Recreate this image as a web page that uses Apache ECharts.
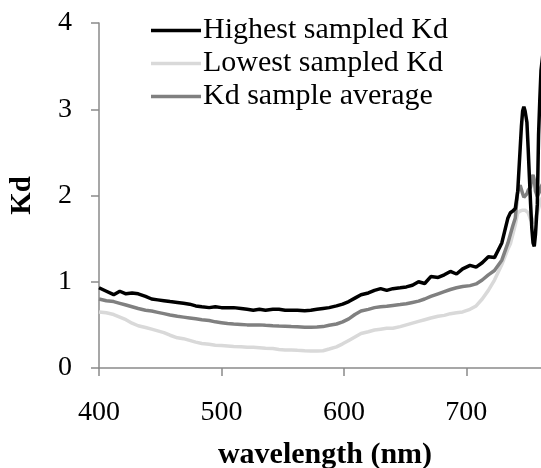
<!DOCTYPE html>
<html>
<head>
<meta charset="utf-8">
<script src="https://cdn.jsdelivr.net/npm/echarts@6/dist/echarts.min.js"></script>
<style>html,body{margin:0;padding:0;background:#fff;}#c{width:541px;height:468px;}</style>
</head>
<body>
<div id="c"></div>
<script>
var wavelengths = [400,406,412,417,422,427,432,438,443,448,453,458,464,469,474,479,484,490,495,500,505,510,516,521,526,531,536,542,547,552,557,562,568,573,578,583,588,594,599,604,609,614,620,625,630,635,640,646,651,656,661,666,671,677,682,687,692,697,703,708,713,718,723,729,734,736,738,740,742,744,745,746,747,748,749.5,750.5,751.5,752.5,753.5,754.5,755.5,756.5,758,759,760,761,763];
var highest = [0.93,0.89,0.85,0.89,0.86,0.87,0.86,0.83,0.80,0.79,0.78,0.77,0.76,0.75,0.74,0.72,0.71,0.70,0.71,0.70,0.70,0.70,0.69,0.68,0.67,0.68,0.67,0.68,0.68,0.67,0.67,0.67,0.665,0.67,0.68,0.69,0.70,0.72,0.74,0.77,0.81,0.85,0.87,0.90,0.92,0.90,0.92,0.93,0.94,0.96,1.00,0.98,1.06,1.05,1.08,1.12,1.09,1.15,1.19,1.17,1.22,1.29,1.28,1.45,1.74,1.80,1.82,1.85,2.05,2.55,2.80,2.98,3.03,2.98,2.85,2.55,2.22,1.90,1.62,1.45,1.41,1.55,1.90,2.70,3.10,3.45,3.70];
var lowest = [0.65,0.64,0.62,0.59,0.56,0.52,0.49,0.47,0.45,0.43,0.41,0.38,0.35,0.34,0.32,0.30,0.285,0.275,0.265,0.26,0.255,0.25,0.245,0.24,0.24,0.235,0.23,0.225,0.215,0.21,0.21,0.205,0.20,0.198,0.198,0.20,0.22,0.245,0.28,0.32,0.36,0.40,0.42,0.44,0.45,0.46,0.46,0.48,0.50,0.52,0.54,0.56,0.58,0.60,0.61,0.63,0.64,0.65,0.68,0.72,0.80,0.90,1.02,1.20,1.38,1.44,1.55,1.66,1.80,1.82,1.82,1.83,1.83,1.83,1.83,1.80,1.76,1.72,1.70,1.68,1.70,1.75,1.80,1.85,1.90,1.95,2.00];
var average = [0.80,0.78,0.77,0.75,0.73,0.71,0.69,0.67,0.66,0.645,0.63,0.615,0.60,0.59,0.58,0.57,0.56,0.55,0.535,0.525,0.515,0.51,0.505,0.50,0.50,0.50,0.495,0.49,0.487,0.485,0.48,0.477,0.473,0.472,0.475,0.48,0.495,0.51,0.535,0.57,0.62,0.66,0.68,0.70,0.71,0.715,0.725,0.735,0.745,0.76,0.775,0.80,0.83,0.86,0.885,0.91,0.93,0.945,0.955,0.975,1.02,1.08,1.13,1.25,1.45,1.55,1.65,1.74,2.05,2.12,2.10,2.02,1.98,1.99,2.02,2.06,2.05,2.10,2.20,2.24,2.18,2.05,1.99,2.00,2.05,2.10,2.15];
var seriesNames = ['Highest sampled Kd','Lowest sampled Kd','Kd sample average'];
var xTicks = [400,500,600,700];
var yTicks = [0,1,2,3,4];

function pairs(vals){ return wavelengths.map(function(w,i){ return [w, vals[i]]; }); }

var FONT = '"Liberation Serif", "Times New Roman", serif';
var axisColor = '#8a8a8a';
var chart = echarts.init(document.getElementById('c'), null, {renderer:'canvas'});
chart.setOption({
  animation: false,
  backgroundColor: '#ffffff',
  grid: {left: 93, right: 0, top: 23, bottom: 100, containLabel: false},
  legend: {
    orient: 'vertical', left: 146, top: 10,
    itemWidth: 50, itemHeight: 3.5, itemGap: 2, icon: 'rect',
    textStyle: {fontFamily: FONT, fontSize: 30, lineHeight: 31, color: '#000', padding: [0,0,0,-3]},
    data: seriesNames
  },
  xAxis: {
    type: 'value', min: 400, max: 761, interval: 100,
    axisLine: {lineStyle: {color: axisColor, width: 1.5}},
    axisTick: {show: true, length: 8, customValues: xTicks, lineStyle: {color: axisColor, width: 1.5}},
    axisLabel: {fontFamily: FONT, fontSize: 28, color: '#000', margin: 31, customValues: xTicks},
    splitLine: {show: false}
  },
  yAxis: {
    type: 'value', min: yTicks[0], max: yTicks[yTicks.length-1], interval: 1,
    axisLine: {show: true, lineStyle: {color: axisColor, width: 1.5}},
    axisTick: {show: true, length: 8, lineStyle: {color: axisColor, width: 1.5}},
    axisLabel: {fontFamily: FONT, fontSize: 28, color: '#000', margin: 27},
    splitLine: {show: false},
    name: 'Kd', nameLocation: 'middle', nameGap: 62, nameRotate: 90,
    nameTextStyle: {fontFamily: FONT, fontSize: 29, fontWeight: 'bold', color: '#000'}
  },
  graphic: [{
    type: 'text', x: 325, y: 440,
    style: {text: 'wavelength (nm)', fontFamily: FONT, fontSize: 30, fontWeight: 'bold', fill: '#000', align: 'center', verticalAlign: 'top'}
  }],
  series: [
    {name: seriesNames[2], type: 'line', data: pairs(average), showSymbol: false, symbol: 'none', color: '#808080', lineStyle: {width: 3.5, color: '#808080'}, z: 2},
    {name: seriesNames[1], type: 'line', data: pairs(lowest), showSymbol: false, symbol: 'none', color: '#d9d9d9', lineStyle: {width: 3.5, color: '#d9d9d9'}, z: 1},
    {name: seriesNames[0], type: 'line', data: pairs(highest), showSymbol: false, symbol: 'none', color: '#000000', lineStyle: {width: 3.5, color: '#000000'}, z: 3}
  ]
});
</script>
</body>
</html>
